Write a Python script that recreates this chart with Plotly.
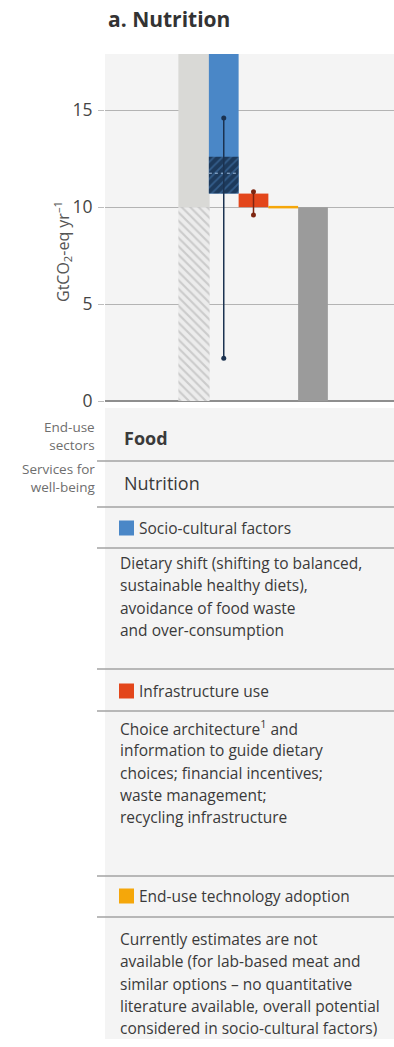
import plotly.graph_objects as go

# ---- data (GtCO2-eq per year) ----
bar_slots = ["Total", "Socio-cultural factors", "Infrastructure use",
             "End-use technology adoption", "Remaining"]
total_level = 17.9            # top of the total bar (runs off the axis)
total_hatched = 10.0          # hatched lower share of the total bar
socio_low = 10.7              # level after socio-cultural reduction
socio_hatch_top = 12.6        # upper edge of the hatched (high-confidence) band
socio_median = 11.75
socio_range = [2.2, 14.6]
infra_low = 10.0              # level after infrastructure-use reduction
infra_range = [9.6, 10.8]
tech_level = 10.0             # no estimate: drawn as a line at this level
remaining = 10.0
y_ticks = [0, 5, 10, 15]

# ---- table text ----
row_heads = ["End-use<br>sectors", "Services for<br>well-being"]
sector = "Food"
service = "Nutrition"
options = ["Socio-cultural factors", "Infrastructure use", "End-use technology adoption"]
option_colors = ["#4a87c7", "#e3461b", "#f5a70a"]
descriptions = [
    ["Dietary shift (shifting to balanced,", "sustainable healthy diets),",
     "avoidance of food waste", "and over-consumption"],
    ["Choice architecture<sup>1</sup> and", "information to guide dietary",
     "choices; financial incentives;", "waste management;", "recycling infrastructure"],
    ["Currently estimates are not", "available (for lab-based meat and",
     "similar options \u2013 no quantitative", "literature available, overall potential",
     "considered in socio-cultural factors)"],
]

# ---- page geometry (pixels) ----
W, H = 394, 1047
L, R, T, B = 105, 394, 54, 401
PW, PH = R - L, B - T


def px(x):
    return (x - L) / PW


def py(y):
    return (B - y) / PH


FONT = "Open Sans"
DARK = "#3a3a3a"

fig = go.Figure()

# total bar: solid upper part and hatched lower part
fig.add_trace(go.Bar(x=[0], y=[total_level - total_hatched], base=[total_hatched],
                     width=1.05, marker=dict(color="#d9d9d6", line=dict(width=0))))
fig.add_trace(go.Bar(x=[0], y=[total_hatched], base=[0], width=1.05,
                     marker=dict(color="#ececec", line=dict(width=0),
                                 pattern=dict(shape="\\", fgcolor="#a9a9a9", bgcolor="#ececec",
                                              size=6, solidity=0.35))))
# socio-cultural reduction
fig.add_trace(go.Bar(x=[1], y=[total_level - socio_low], base=[socio_low], width=1.0,
                     marker=dict(color="#4a87c7", line=dict(width=0))))
fig.add_trace(go.Bar(x=[1], y=[socio_hatch_top - socio_low], base=[socio_low], width=1.0,
                     marker=dict(color="#1d3a5c", line=dict(width=0),
                                 pattern=dict(shape="/", fgcolor="#4a7fb8", bgcolor="#1d3a5c",
                                              size=6, solidity=0.3))))
# infrastructure-use reduction
fig.add_trace(go.Bar(x=[2], y=[socio_low - infra_low], base=[infra_low], width=1.0,
                     marker=dict(color="#e3461b", line=dict(width=0))))
# remaining emissions
fig.add_trace(go.Bar(x=[4], y=[remaining], base=[0], width=1.0,
                     marker=dict(color="#9b9b9b", line=dict(width=0))))

# end-use technology adoption: level line only
fig.add_trace(go.Scatter(x=[2.5, 3.5], y=[tech_level, tech_level], mode="lines",
                         line=dict(color="#f5a70a", width=2.5)))
# median tick inside the hatched band
fig.add_trace(go.Scatter(x=[0.5, 1.5], y=[socio_median, socio_median], mode="lines",
                         line=dict(color="#9fbde0", width=1, dash="dot")))
# ranges
fig.add_trace(go.Scatter(x=[1, 1], y=socio_range, mode="lines+markers",
                         line=dict(color="#1b3250", width=1.5),
                         marker=dict(color="#1b3250", size=5)))
fig.add_trace(go.Scatter(x=[2, 2], y=infra_range, mode="lines+markers",
                         line=dict(color="#7e2510", width=1.5),
                         marker=dict(color="#7e2510", size=5)))

unit = (313 - 194) / 4
fig.update_xaxes(range=[-(194 - L) / unit, 4 + (R - 313) / unit], visible=False, fixedrange=True)
fig.update_yaxes(range=[0, total_level], tickvals=y_ticks, ticktext=[str(v) for v in y_ticks],
                 showgrid=True, gridcolor="#b3b3b3", gridwidth=1,
                 zeroline=True, zerolinecolor="#8e8e8e", zerolinewidth=2,
                 showline=False, ticks="outside", ticklen=6, tickcolor="#bdbdbd", tickwidth=1,
                 ticklabelstandoff=2,
                 tickfont=dict(family=FONT, size=17.5, color="#444444"))

shapes = []
ann = []

# title and axis title
ann.append(dict(x=px(106), y=py(19), xref="paper", yref="paper", xanchor="left", yanchor="middle",
                text="<b>a. Nutrition</b>", showarrow=False,
                font=dict(family=FONT, size=21, color="#333333")))
ann.append(dict(x=px(62), y=py(252), xref="paper", yref="paper", xanchor="center", yanchor="middle",
                text="GtCO<sub>2</sub>-eq yr<sup>\u20131</sup>", textangle=-90, showarrow=False,
                font=dict(family=FONT, size=16, color="#555555")))

# table panel
shapes.append(dict(type="rect", xref="paper", yref="paper", x0=px(105), x1=px(394),
                   y0=py(1039), y1=py(408), fillcolor="#f4f4f4", line=dict(width=0), layer="below"))
for yline in [461, 507, 548, 669, 711, 876, 917]:
    shapes.append(dict(type="line", xref="paper", yref="paper", x0=px(97), x1=px(394),
                       y0=py(yline), y1=py(yline), line=dict(color="#a3a3a3", width=1.5)))

# row heads on the left
for txt, yc in zip(row_heads, [436.5, 478]):
    ann.append(dict(x=px(97), y=py(yc), xref="paper", yref="paper", xanchor="right",
                    yanchor="middle", align="right", text=txt, showarrow=False,
                    font=dict(family=FONT, size=13.5, color="#6e6e6e")))

ann.append(dict(x=px(122), y=py(438), xref="paper", yref="paper", xanchor="left", yanchor="middle",
                text="<b>" + sector + "</b>", showarrow=False,
                font=dict(family=FONT, size=18, color=DARK)))
ann.append(dict(x=px(122), y=py(483), xref="paper", yref="paper", xanchor="left", yanchor="middle",
                text=service, showarrow=False, font=dict(family=FONT, size=18, color=DARK)))

head_y = [528, 691, 896]
desc_y = [563, 728, 939]
for name, col, hy, lines, dy in zip(options, option_colors, head_y, descriptions, desc_y):
    shapes.append(dict(type="rect", xref="paper", yref="paper", x0=px(119), x1=px(134),
                       y0=py(hy + 7.5), y1=py(hy - 7.5), fillcolor=col, line=dict(width=0)))
    ann.append(dict(x=px(137), y=py(hy), xref="paper", yref="paper", xanchor="left",
                    yanchor="middle", text=name, showarrow=False,
                    font=dict(family=FONT, size=15.5, color=DARK)))
    for i, txt in enumerate(lines):
        ann.append(dict(x=px(118), y=py(dy + 22.3 * i), xref="paper", yref="paper",
                        xanchor="left", yanchor="middle", text=txt, showarrow=False,
                        font=dict(family=FONT, size=15.5, color=DARK)))

fig.update_layout(width=W, height=H, margin=dict(l=L, r=W - R, t=T, b=H - B, pad=0),
                  paper_bgcolor="white", plot_bgcolor="#f4f4f4", barmode="overlay",
                  showlegend=False, shapes=shapes, annotations=ann)

fig.write_html("out.html", config={"displayModeBar": False})
